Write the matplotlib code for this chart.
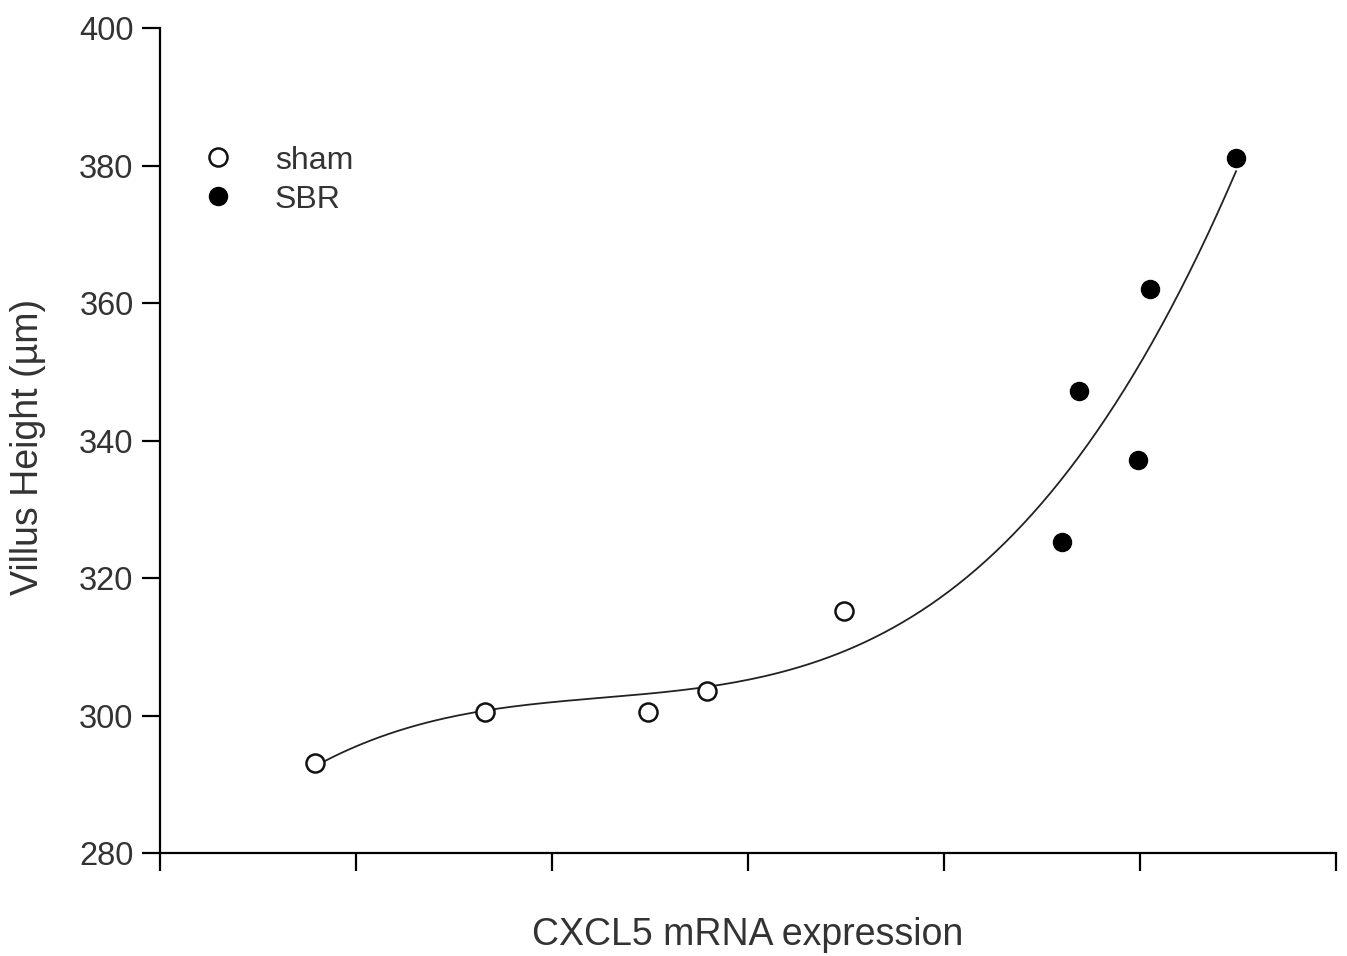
import numpy as np
import matplotlib.pyplot as plt

plt.rcParams['font.family'] = ['Liberation Sans', 'DejaVu Sans']

# (x axis has no labels, units are tick spacings)
sham_x = [0.79, 1.66, 2.49, 2.79, 3.49]
sham_y = [293.1, 300.5, 300.5, 303.6, 315.2]
sbr_x = [4.60, 4.69, 4.99, 5.05, 5.49]
sbr_y = [325.2, 347.2, 337.2, 362.0, 381.1]

y_ticks = [280, 300, 320, 340, 360, 380, 400]
x_ticks = [0, 1, 2, 3, 4, 5, 6]

# fitted curve through all points
all_x = np.array(sham_x + sbr_x)
all_y = np.array(sham_y + sbr_y)
coef = np.polyfit(all_x, all_y, 3)
xf = np.linspace(min(all_x), max(all_x), 200)
yf = np.polyval(coef, xf)

fig = plt.figure(figsize=(13.47, 9.56), dpi=100)
ax = fig.add_axes([160/1347, 1-853/956, (1336-160)/1347, (853-28)/956])

ax.plot(xf, yf, color='#222222', lw=1.3, zorder=2)
ax.plot(sham_x, sham_y, 'o', ms=13, mfc='white', mec='#111111', mew=1.8, zorder=3, label='sham')
ax.plot(sbr_x, sbr_y, 'o', ms=13, mfc='black', mec='black', mew=1.0, zorder=3, label='SBR')

ax.set_xlim(0, 6)
ax.set_ylim(280, 400)
ax.set_xticks(x_ticks)
ax.set_xticklabels([])
ax.set_yticks(y_ticks)
for s in ['top', 'right']:
    ax.spines[s].set_visible(False)
for s in ['left', 'bottom']:
    ax.spines[s].set_linewidth(1.6)
ax.tick_params(direction='out', length=13, width=1.6, labelsize=23.5, labelcolor='#333333', pad=6)

ax.set_ylabel('Villus Height (\u00b5m)', fontsize=27, color='#333333')
ax.yaxis.set_label_coords(-0.112, 0.492)
ax.yaxis.label.set_va('center')
ax.set_xlabel('CXCL5 mRNA expression', fontsize=27, color='#333333')
ax.xaxis.set_label_coords(0.5, -0.0994)
ax.xaxis.label.set_va('center')

leg = ax.legend(loc='upper left', bbox_to_anchor=(0.0357, 0.8575), frameon=False,
                fontsize=23, handlelength=1.0, handletextpad=1.28, labelspacing=0.28,
                borderaxespad=0, borderpad=0)
for t in leg.get_texts():
    t.set_color('#333333')

fig.savefig('out.png', dpi=100)
